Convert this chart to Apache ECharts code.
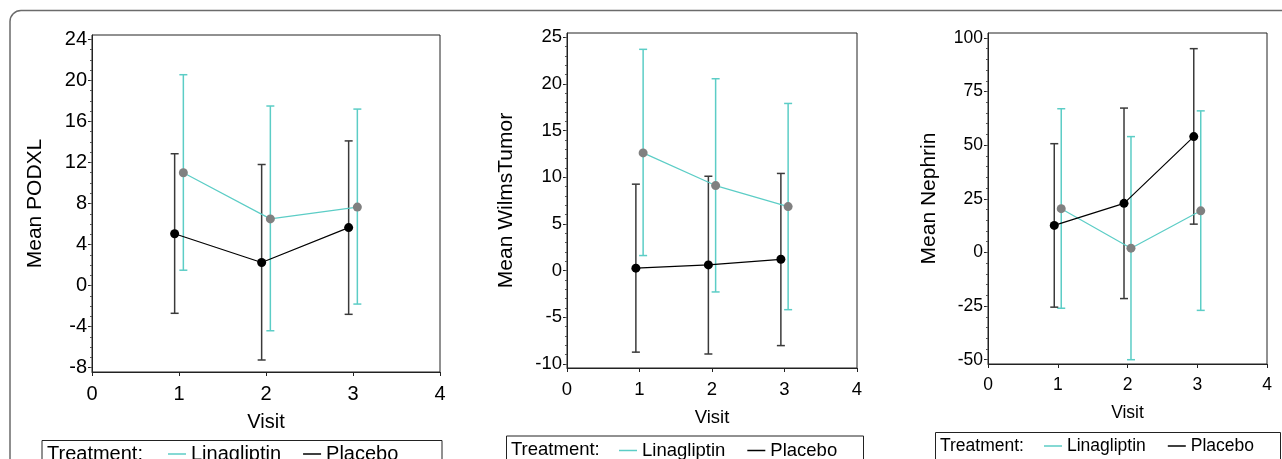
<!DOCTYPE html>
<html lang="en">
<head>
    <meta charset="UTF-8">
    <title>Mean biomarkers by visit</title>
    <script src="https://cdn.jsdelivr.net/npm/echarts@6.0.0/dist/echarts.min.js"></script>
    <style>
        html, body { margin: 0; padding: 0; background: #fff; }
    </style>
</head>
<body>
    <div id="main" style="width: 1282px;height:459px;"></div>
    <script type="text/javascript">
        // Visits and the small horizontal dodge between treatments
        const visits = [1, 2, 3];
        const dodge = 0.05;

        // PODXL
        const podxlLinaMean = [11.0, 6.5, 7.65];
        const podxlLinaLow = [1.5, -4.4, -1.8];
        const podxlLinaHigh = [20.55, 17.5, 17.2];
        const podxlPlaMean = [5.05, 2.25, 5.65];
        const podxlPlaLow = [-2.7, -7.25, -2.8];
        const podxlPlaHigh = [12.85, 11.8, 14.1];
        const podxlTicks = [-8, -4, 0, 4, 8, 12, 16, 20, 24];

        // WilmsTumor
        const wilmsLinaMean = [12.6, 9.1, 6.85];
        const wilmsLinaLow = [1.6, -2.3, -4.2];
        const wilmsLinaHigh = [23.7, 20.55, 17.9];
        const wilmsPlaMean = [0.25, 0.6, 1.2];
        const wilmsPlaLow = [-8.75, -8.95, -8.05];
        const wilmsPlaHigh = [9.25, 10.1, 10.4];
        const wilmsTicks = [-10, -5, 0, 5, 10, 15, 20, 25];

        // Nephrin
        const nephLinaMean = [20.4, 2.0, 19.4];
        const nephLinaLow = [-26, -50, -27];
        const nephLinaHigh = [67, 54, 66];
        const nephPlaMean = [12.6, 22.9, 54];
        const nephPlaLow = [-25.5, -21.5, 13.2];
        const nephPlaHigh = [50.7, 67.3, 95];
        const nephTicks = [-50, -25, 0, 25, 50, 75, 100];

        const visitTicks = [0, 1, 2, 3, 4];

        const teal = '#5ccdc6';
        const font = '"Liberation Sans", Arial, sans-serif';

        let myChart = echarts.init(document.getElementById('main'));

        // panel layout (pixels)
        const panels = [
            { grid: { left: 92, top: 35, width: 348, height: 337 }, yMin: -8.42, yMax: 24.42, ticks: podxlTicks, minorStep: 1,
              name: 'Mean PODXL', nameGap: 46, fs: 20, legendTop: 444, legendLeft: 168, box: [42, 440.5, 400, 40], tx: 47,
              lina: [podxlLinaMean, podxlLinaLow, podxlLinaHigh], pla: [podxlPlaMean, podxlPlaLow, podxlPlaHigh] },
            { grid: { left: 567, top: 33, width: 290, height: 335 }, yMin: -10.45, yMax: 25.45, ticks: wilmsTicks, minorStep: 1,
              name: 'Mean WilmsTumor', nameGap: 50, fs: 18.5, legendTop: 441, legendLeft: 619, box: [506.5, 436, 357, 40], tx: 511,
              lina: [wilmsLinaMean, wilmsLinaLow, wilmsLinaHigh], pla: [wilmsPlaMean, wilmsPlaLow, wilmsPlaHigh] },
            { grid: { left: 988, top: 33, width: 279, height: 331 }, yMin: -52, yMax: 102.3, ticks: nephTicks, minorStep: 5,
              name: 'Mean Nephrin', nameGap: 48, fs: 17.5, legendTop: 437, legendLeft: 1044, box: [935.5, 432.5, 345, 40], tx: 940,
              lina: [nephLinaMean, nephLinaLow, nephLinaHigh], pla: [nephPlaMean, nephPlaLow, nephPlaHigh] }
        ];

        function errorBars(color) {
            return function (params, api) {
                const x = api.value(0);
                const top = api.coord([x, api.value(2)]);
                const bot = api.coord([x, api.value(1)]);
                const w = 4;
                const style = { stroke: color, lineWidth: 1.5 };
                return {
                    type: 'group',
                    children: [
                        { type: 'line', shape: { x1: top[0], y1: top[1], x2: bot[0], y2: bot[1] }, style: style },
                        { type: 'line', shape: { x1: top[0] - w, y1: top[1], x2: top[0] + w, y2: top[1] }, style: style },
                        { type: 'line', shape: { x1: bot[0] - w, y1: bot[1], x2: bot[0] + w, y2: bot[1] }, style: style }
                    ]
                };
            };
        }

        function minorValues(p) {
            const out = [];
            const lo = p.ticks[0], hi = p.ticks[p.ticks.length - 1];
            for (let v = lo; v <= hi + 1e-9; v += p.minorStep) out.push(v);
            return out;
        }

        const grid = [], xAxis = [], yAxis = [], series = [], legend = [];
        const graphic = [{
            type: 'rect', shape: { x: 10, y: 10.5, width: 1300, height: 500, r: 11 },
            style: { fill: 'none', stroke: '#6b6b6b', lineWidth: 1.5 }, silent: true
        }];

        panels.forEach((p, i) => {
            grid.push(Object.assign({ show: true, borderColor: '#222', borderWidth: 1, backgroundColor: 'transparent' }, p.grid));
            xAxis.push({
                type: 'value', gridIndex: i, min: 0, max: 4, interval: 1, position: 'bottom',
                name: 'Visit', nameLocation: 'middle', nameGap: 40,
                nameTextStyle: { color: '#000', fontSize: p.fs, fontFamily: font },
                axisLine: { onZero: false, lineStyle: { color: '#222', width: 1 } },
                axisTick: { show: true, length: 4, lineStyle: { color: '#222' } },
                axisLabel: { color: '#000', fontSize: p.fs, fontFamily: font, margin: 12,
                    customValues: visitTicks },
                splitLine: { show: false }
            });
            // main y axis
            yAxis.push({
                type: 'value', gridIndex: i, min: p.yMin, max: p.yMax, position: 'left',
                name: p.name, nameLocation: 'middle', nameGap: p.nameGap,
                nameTextStyle: { color: '#000', fontSize: 21, fontFamily: font },
                axisLine: { show: true, onZero: false, lineStyle: { color: '#222', width: 1 } },
                axisTick: { show: true, length: 4, customValues: p.ticks, lineStyle: { color: '#222' } },
                axisLabel: { color: '#000', fontSize: p.fs, fontFamily: font, margin: 5, customValues: p.ticks },
                splitLine: { show: false }
            });
            // minor ticks
            yAxis.push({
                type: 'value', gridIndex: i, min: p.yMin, max: p.yMax, position: 'left', offset: 0,
                axisLine: { show: false, onZero: false },
                axisTick: { show: true, length: 2, customValues: minorValues(p), lineStyle: { color: '#555' } },
                axisLabel: { show: false },
                splitLine: { show: false }
            });
            const yi = i * 2;
            const linaPts = visits.map((v, k) => [v + dodge, p.lina[0][k]]);
            const plaPts = visits.map((v, k) => [v - dodge, p.pla[0][k]]);
            series.push({
                name: 'Linagliptin', type: 'custom', xAxisIndex: i, yAxisIndex: yi,
                renderItem: errorBars(teal), encode: { x: 0, y: [1, 2] }, z: 2,
                data: visits.map((v, k) => [v + dodge, p.lina[1][k], p.lina[2][k]])
            });
            series.push({
                name: 'Placebo', type: 'custom', xAxisIndex: i, yAxisIndex: yi,
                renderItem: errorBars('#3a3a3a'), encode: { x: 0, y: [1, 2] }, z: 2,
                data: visits.map((v, k) => [v - dodge, p.pla[1][k], p.pla[2][k]])
            });
            series.push({
                name: 'Linagliptin', type: 'line', xAxisIndex: i, yAxisIndex: yi, z: 3,
                symbol: 'circle', symbolSize: 9, itemStyle: { color: '#808080' },
                lineStyle: { color: teal, width: 1.2 }, data: linaPts, animation: false
            });
            series.push({
                name: 'Placebo', type: 'line', xAxisIndex: i, yAxisIndex: yi, z: 3,
                symbol: 'circle', symbolSize: 9, itemStyle: { color: '#000' },
                lineStyle: { color: '#000', width: 1.2 }, data: plaPts, animation: false
            });
            legend.push({
                left: p.legendLeft, top: p.legendTop, orient: 'horizontal',
                icon: 'rect', itemWidth: 18, itemHeight: 1.5, itemGap: 22, padding: 0,
                textStyle: { color: '#000', fontSize: p.fs, fontFamily: font, padding: [0, 0, 0, 0] },
                data: [
                    { name: 'Linagliptin', itemStyle: { color: teal } },
                    { name: 'Placebo', itemStyle: { color: '#000' } }
                ]
            });
            graphic.push({
                type: 'rect', shape: { x: p.box[0], y: p.box[1], width: p.box[2], height: p.box[3] },
                style: { fill: 'none', stroke: '#222', lineWidth: 1 }, silent: true
            });
            graphic.push({
                type: 'text', x: p.tx, y: p.legendTop + p.fs / 2,
                style: { text: 'Treatment:', fill: '#000', fontSize: p.fs, fontFamily: font, verticalAlign: 'middle' },
                silent: true
            });
        });

        myChart.setOption({
            animation: false,
            grid: grid,
            xAxis: xAxis,
            yAxis: yAxis,
            legend: legend,
            graphic: graphic,
            series: series
        });
    </script>
</body>
</html>
